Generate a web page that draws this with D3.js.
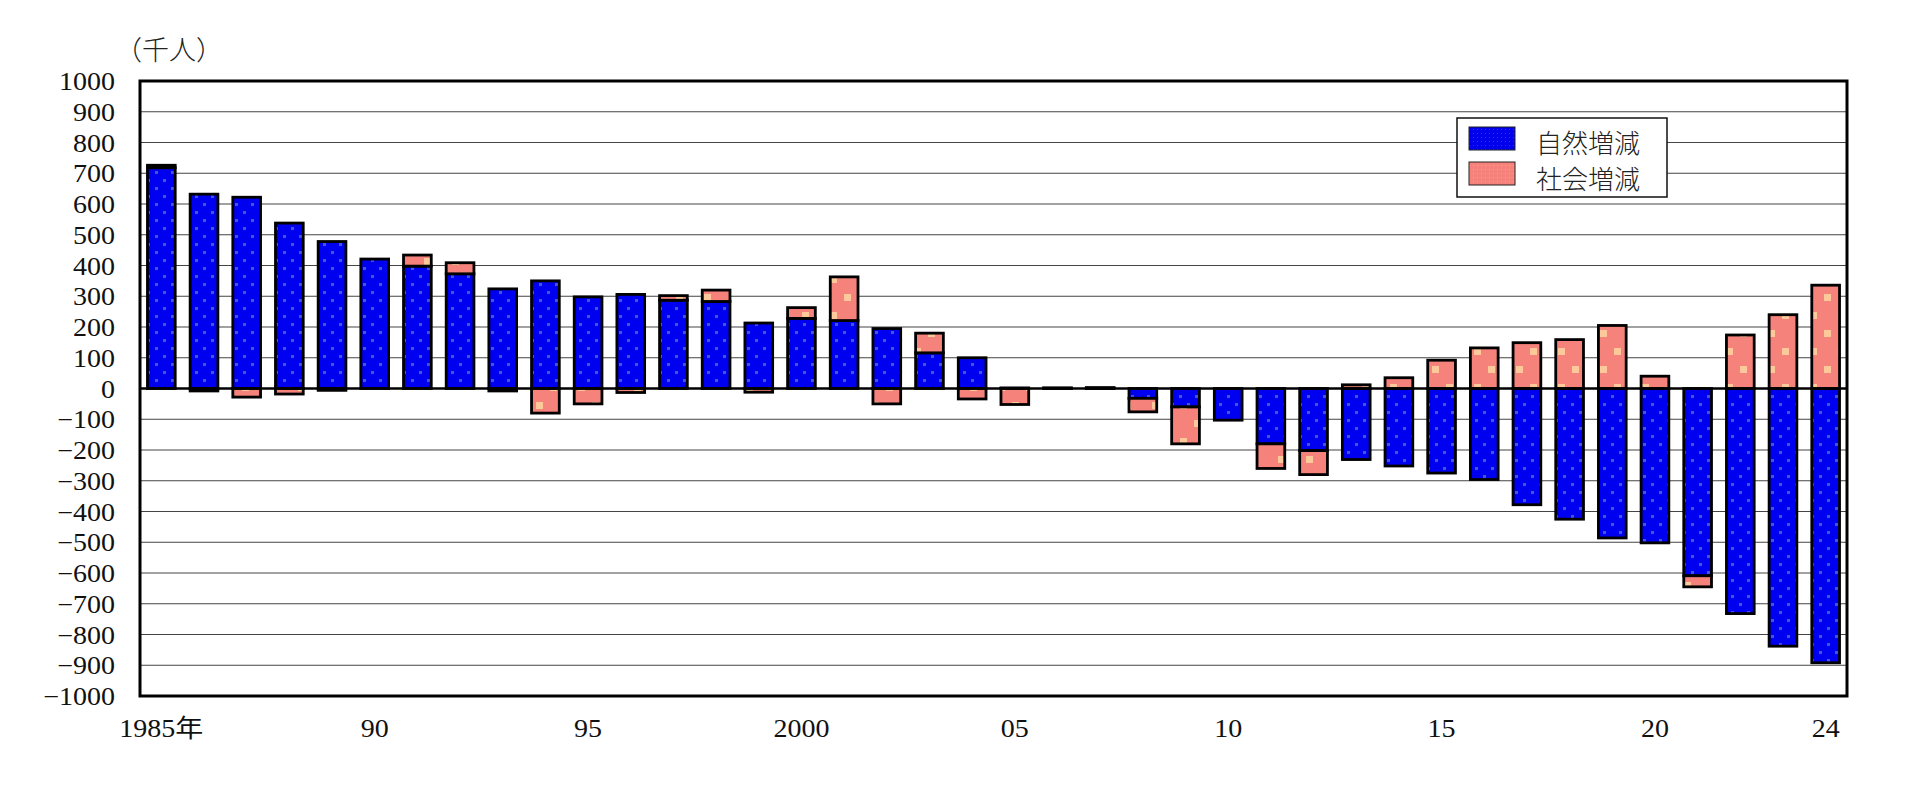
<!DOCTYPE html>
<html lang="ja">
<head>
<meta charset="utf-8">
<script src="https://cdn.jsdelivr.net/npm/d3@7"></script>
<style>
  html, body { margin: 0; padding: 0; background: #fff; }
  svg { display: block; }
  .tick text { font-family: "Liberation Serif", "Noto Sans CJK JP", serif; font-size: 25px; fill: #111; }
  .legend text { font-family: "Noto Sans CJK JP", sans-serif; font-size: 26px; font-weight: 300; fill: #222; }
  .unit { font-family: "Noto Sans CJK JP", sans-serif; font-size: 27px; font-weight: 300; fill: #222; }
</style>
</head>
<body>
<div id="chart"></div>
<script>
// 年 (1985-2024)
const years = d3.range(1985, 2025);

// 自然増減 (千人)
const natural = [
  718, 632, 622, 538, 478, 421, 398, 373, 324, 350,
  298, 306, 287, 283, 213, 228, 221, 195, 116, 100,
  2, 1, 1, -32, -60, -103, -180, -202, -231, -252,
  -275, -296, -378, -425, -486, -502, -609, -732, -838, -892
];

// 社会増減 (千人)
const social = [
  8, -8, -28, -18, -6, 0, 36, 36, -8, -80,
  -50, -13, 15, 37, -12, 35, 142, -50, 64, -34,
  -52, 1, 2, -44, -120, 0, -80, -78, 12, 35,
  92, 132, 149, 159, 205, 40, -36, 174, 240, 336
];

const seriesNames = ["自然増減", "社会増減"];
const yTicks = d3.range(-1000, 1001, 100);
const xTickYears = [1985, 1990, 1995, 2000, 2005, 2010, 2015, 2020, 2024];
const xTickLabels = ["1985年", "90", "95", "2000", "05", "10", "15", "20", "24"];

const width = 1915, height = 788;
const margin = { top: 81, right: 68, bottom: 92, left: 140 };

const svg = d3.select("#chart")
  .append("svg")
  .attr("width", width)
  .attr("height", height);

// fill patterns (dotted blue / speckled salmon like the original)
const defs = svg.append("defs");
const makePattern = (id, w, h, base, dots, dotColor) => {
  const p = defs.append("pattern")
    .attr("id", id)
    .attr("patternUnits", "userSpaceOnUse")
    .attr("width", w).attr("height", h);
  p.append("rect").attr("width", w).attr("height", h).attr("fill", base);
  dots.forEach(([dx, dy, s]) => {
    p.append("rect").attr("x", dx).attr("y", dy).attr("width", s).attr("height", s).attr("fill", dotColor);
  });
};
makePattern("pat-blue", 16, 16, "#0000f0", [[3, 3, 3], [11, 11, 3]], "#4656dc");
makePattern("pat-pink", 28, 36, "#f6827c", [[4, 6, 7], [18, 24, 7]], "#fdc99a");
// finer texture used in the legend swatches
makePattern("pat-blue-s", 4, 4, "#0000ec", [[1, 1, 1]], "#2a36d8");
makePattern("pat-pink-s", 4, 4, "#f6827c", [[1, 1, 1]], "#f9a08e");

const fills = ["url(#pat-blue)", "url(#pat-pink)"];
const swatchFills = ["url(#pat-blue-s)", "url(#pat-pink-s)"];

// Scales
const x = d3.scaleBand()
  .domain(years)
  .range([margin.left, width - margin.right])
  .paddingInner(0.35)
  .paddingOuter(0.175);

const y = d3.scaleLinear()
  .domain([-1000, 1000])
  .range([height - margin.bottom, margin.top]);

// gridlines
svg.append("g")
  .selectAll("line")
  .data(yTicks.filter(d => d !== 0 && Math.abs(d) !== 1000))
  .join("line")
    .attr("x1", margin.left)
    .attr("x2", width - margin.right)
    .attr("y1", d => y(d))
    .attr("y2", d => y(d))
    .attr("stroke", "#444")
    .attr("stroke-width", 1.2);

// legend (sits on top of the gridlines)
const legend = svg.append("g").attr("class", "legend");
legend.append("rect")
  .attr("x", 1457).attr("y", 118)
  .attr("width", 210).attr("height", 79)
  .attr("fill", "#fff")
  .attr("stroke", "#111")
  .attr("stroke-width", 1.5);
seriesNames.forEach((name, i) => {
  legend.append("rect")
    .attr("x", 1469).attr("y", 127 + i * 35)
    .attr("width", 46).attr("height", 23)
    .attr("fill", swatchFills[i])
    .attr("stroke", "#222")
    .attr("stroke-width", 1);
  legend.append("text")
    .attr("x", 1536).attr("y", 141 + i * 36)
    .attr("dominant-baseline", "central")
    .text(name);
});

// stacked bars, positives up and negatives down
const table = years.map((yr, i) => ({ year: yr, [seriesNames[0]]: natural[i], [seriesNames[1]]: social[i] }));
const stacked = d3.stack()
  .keys(seriesNames)
  .offset(d3.stackOffsetDiverging)(table);

svg.append("g")
  .selectAll("g")
  .data(stacked)
  .join("g")
    .attr("fill", (d, i) => fills[i])
  .selectAll("rect")
  .data(d => d)
  .join("rect")
    .attr("x", d => x(d.data.year))
    .attr("width", x.bandwidth())
    .attr("y", d => y(Math.max(d[0], d[1])))
    .attr("height", d => Math.abs(y(d[0]) - y(d[1])))
    .attr("stroke", "#000")
    .attr("stroke-width", 2.8);

// zero line
svg.append("line")
  .attr("x1", margin.left)
  .attr("x2", width - margin.right)
  .attr("y1", y(0))
  .attr("y2", y(0))
  .attr("stroke", "#000")
  .attr("stroke-width", 2.6);

// plot frame
svg.append("rect")
  .attr("x", margin.left)
  .attr("y", margin.top)
  .attr("width", width - margin.left - margin.right)
  .attr("height", height - margin.top - margin.bottom)
  .attr("fill", "none")
  .attr("stroke", "#000")
  .attr("stroke-width", 3);

// axes
const fmtY = d => d < 0 ? "\u2212" + Math.abs(d) : String(d);
const yAxis = svg.append("g")
  .attr("transform", `translate(${margin.left},0)`)
  .call(d3.axisLeft(y).tickValues(yTicks).tickSize(0).tickPadding(25).tickFormat(fmtY));
yAxis.select(".domain").remove();
yAxis.selectAll("text").attr("dy", null).attr("dominant-baseline", "central");

const xAxis = svg.append("g")
  .attr("transform", `translate(0,${height - margin.bottom})`)
  .call(d3.axisBottom(x).tickValues(xTickYears).tickSize(0).tickPadding(23)
    .tickFormat(d => xTickLabels[xTickYears.indexOf(d)]));
xAxis.select(".domain").remove();

// the original digits are a bit wider than Liberation Serif, stretch them slightly
svg.selectAll(".tick text").each(function() {
  const w = this.getComputedTextLength();
  d3.select(this).attr("textLength", w * 1.12).attr("lengthAdjust", "spacingAndGlyphs");
});

// unit label
svg.append("text")
  .attr("class", "unit")
  .attr("x", 115)
  .attr("y", 48)
  .attr("dominant-baseline", "central")
  .text("（千人）");
</script>
</body>
</html>
